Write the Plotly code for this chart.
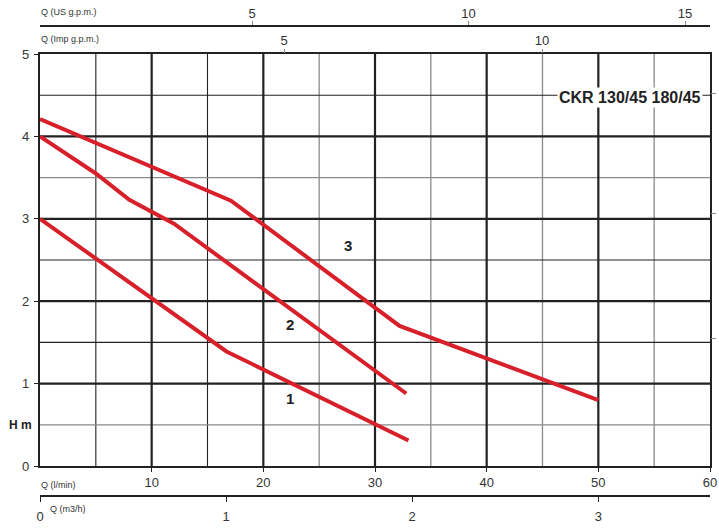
import plotly.graph_objects as go

# ---- data ----
curve1_q = [0, 16.7, 33.0]
curve1_h = [3.0, 1.39, 0.31]
curve2_q = [0, 5.0, 8.0, 12.0, 32.8]
curve2_h = [4.0, 3.55, 3.23, 2.94, 0.88]
curve3_q = [0, 17.1, 32.2, 50.0]
curve3_h = [4.21, 3.22, 1.70, 0.80]

curve_labels = ["1", "2", "3"]
label_q = [22.4, 22.4, 27.6]
label_h = [0.80, 1.69, 2.66]

lmin_ticks = [10, 20, 30, 40, 50, 60]
h_ticks = [0, 1, 2, 3, 4, 5]
m3h_ticks = [0, 1, 2, 3]
usgpm_ticks = [5, 10, 15]
impgpm_ticks = [5, 10]
right_ticks = [1.55, 3.07, 4.52]

grid_x_thick = [10, 20, 30, 40, 50]
grid_x_thin_dark = [5, 15]
grid_x_thin_gray = [25, 35, 45, 55]
grid_y_thick = [1, 2, 3, 4]
grid_y_thin_dark = [1.5, 2.5, 4.5]
grid_y_thin_gray = [0.5, 3.5]

title_text = "CKR 130/45 180/45"

RED = "#D7202A"
DARK = "#222222"
GRAY = "#8a8a8a"
FONT = "Liberation Sans, Arial, sans-serif"

W, H = 719, 529
ML = 40
plot_right = 710
MR = W - plot_right
plot_w = plot_right - ML


def py(page_y):
    """page pixel y -> paper fraction"""
    return (H - page_y) / H


def px(page_x):
    """page pixel x -> paper fraction"""
    return (page_x - ML) / plot_w


ydom = [py(466), py(54)]

fig = go.Figure()

for q, h in [(curve1_q, curve1_h), (curve2_q, curve2_h), (curve3_q, curve3_h)]:
    fig.add_trace(go.Scatter(x=q, y=h, mode="lines",
                             line=dict(color=RED, width=4),
                             hoverinfo="skip", showlegend=False))

fig.add_trace(go.Scatter(x=label_q, y=label_h, mode="text", text=curve_labels,
                         textfont=dict(family=FONT, size=15, color=DARK),
                         texttemplate="<b>%{text}</b>",
                         hoverinfo="skip", showlegend=False))

# invisible traces to activate secondary axes
fig.add_trace(go.Scatter(x=[0], y=[0], xaxis="x2", yaxis="y", mode="markers",
                         marker=dict(opacity=0), hoverinfo="skip", showlegend=False))
fig.add_trace(go.Scatter(x=[5], y=[0], xaxis="x3", yaxis="y", mode="markers",
                         marker=dict(opacity=0), hoverinfo="skip", showlegend=False))
fig.add_trace(go.Scatter(x=[5], y=[0], xaxis="x4", yaxis="y", mode="markers",
                         marker=dict(opacity=0), hoverinfo="skip", showlegend=False))
fig.add_trace(go.Scatter(x=[0], y=[1], xaxis="x", yaxis="y2", mode="markers",
                         marker=dict(opacity=0), hoverinfo="skip", showlegend=False))

shapes = []


def vline(x, color, width):
    shapes.append(dict(type="line", xref="x", yref="y", x0=x, x1=x, y0=0, y1=5,
                       line=dict(color=color, width=width), layer="below"))


def hline(y, color, width):
    shapes.append(dict(type="line", xref="x", yref="y", x0=0, x1=60, y0=y, y1=y,
                       line=dict(color=color, width=width), layer="below"))


for x in grid_x_thin_gray: vline(x, GRAY, 1.3)
for x in grid_x_thin_dark: vline(x, DARK, 1.1)
for y in grid_y_thin_gray: hline(y, GRAY, 1.3)
for y in grid_y_thin_dark: hline(y, DARK, 1.1)
for x in grid_x_thick: vline(x, DARK, 2.2)
for y in grid_y_thick: hline(y, DARK, 2.2)

tickfont = dict(family=FONT, size=13, color="#333333")
smallfont = dict(family=FONT, size=9, color="#333333")

# m3/h axis scale: 1 m3/h = 16.667 l/min
m3h_range = [0, 60 / 16.667]
# gpm axes fitted to the drawing (page px of zero, px per unit)
us_px0, us_pxper = 35.5, 43.3
us_range = [(40 - us_px0) / us_pxper, (710 - us_px0) / us_pxper]
imp_px0, imp_pxper = 26.0, 51.6
imp_range = [(40 - imp_px0) / imp_pxper, (710 - imp_px0) / imp_pxper]

fig.update_layout(
    width=W, height=H,
    margin=dict(l=ML, r=MR, t=0, b=0, pad=0, autoexpand=False),
    paper_bgcolor="white", plot_bgcolor="white",
    shapes=shapes,
    xaxis=dict(range=[0, 60], domain=[0, 1], anchor="y", automargin=False,
               tickvals=lmin_ticks, ticks="outside", ticklen=4, tickwidth=1,
               tickcolor=DARK, showgrid=False, zeroline=False,
               showline=True, linecolor=DARK, linewidth=2.2, mirror=True,
               tickfont=tickfont, ticklabelstandoff=-1),
    yaxis=dict(range=[0, 5], domain=ydom, tickvals=h_ticks, automargin=False,
               ticks="outside", ticklen=4, tickcolor=DARK,
               showgrid=False, zeroline=False,
               showline=True, linecolor=DARK, linewidth=2.2, mirror=True,
               tickfont=tickfont, ticklabelstandoff=2),
    yaxis2=dict(range=[0, 5], overlaying="y", side="right", anchor="x",
                automargin=False,
                tickvals=right_ticks, ticks="outside", ticklen=5, tickcolor=GRAY,
                showticklabels=False, showgrid=False, zeroline=False, showline=False),
    xaxis2=dict(range=m3h_range, overlaying="x", anchor="free", automargin=False,
                position=py(496), side="bottom", domain=[0, 1],
                tickvals=m3h_ticks, ticks="outside", ticklen=5, tickcolor=DARK,
                showline=True, linecolor=DARK, linewidth=2.2,
                showgrid=False, zeroline=False, tickfont=tickfont,
                ticklabelstandoff=3),
    xaxis3=dict(range=us_range, overlaying="x", anchor="free", automargin=False,
                position=py(26), side="top", domain=[0, 1],
                tickvals=usgpm_ticks, ticks="outside", ticklen=4, tickcolor=GRAY,
                showline=True, linecolor=DARK, linewidth=2,
                showgrid=False, zeroline=False, tickfont=tickfont,
                ticklabelstandoff=-2),
    xaxis4=dict(range=imp_range, overlaying="x", anchor="y", side="top",
                domain=[0, 1], automargin=False,
                tickvals=impgpm_ticks, ticks="outside", ticklen=4, tickcolor=GRAY,
                showline=False, showgrid=False, zeroline=False, tickfont=tickfont,
                ticklabelstandoff=-1),
    annotations=[
        dict(text="<b>" + title_text + "</b>", xref="x", yref="y", x=59.4, y=4.47,
             xanchor="right", yanchor="middle", showarrow=False,
             font=dict(family=FONT, size=16, color=DARK), bgcolor="white",
             borderpad=1),
        dict(text="<b>H m</b>", xref="paper", yref="paper",
             x=px(20), y=py(425), xanchor="center",
             yanchor="middle", showarrow=False,
             font=dict(family=FONT, size=12, color=DARK)),
        dict(text="Q (US g.p.m.)", xref="paper", yref="paper",
             x=px(39), y=py(12), xanchor="left",
             yanchor="middle", showarrow=False, font=smallfont),
        dict(text="Q (Imp g.p.m.)", xref="paper", yref="paper",
             x=px(39), y=py(39), xanchor="left",
             yanchor="middle", showarrow=False, font=smallfont),
        dict(text="Q (l/min)", xref="paper", yref="paper",
             x=px(39), y=py(485), xanchor="left",
             yanchor="middle", showarrow=False, font=smallfont),
        dict(text="Q (m3/h)", xref="paper", yref="paper",
             x=px(48), y=py(509), xanchor="left",
             yanchor="middle", showarrow=False, font=smallfont),
    ],
)

fig.write_html("out.html",
               config={"displayModeBar": False},
               post_script="document.body.style.margin='0px';"
                           "document.body.style.overflow='hidden';")
